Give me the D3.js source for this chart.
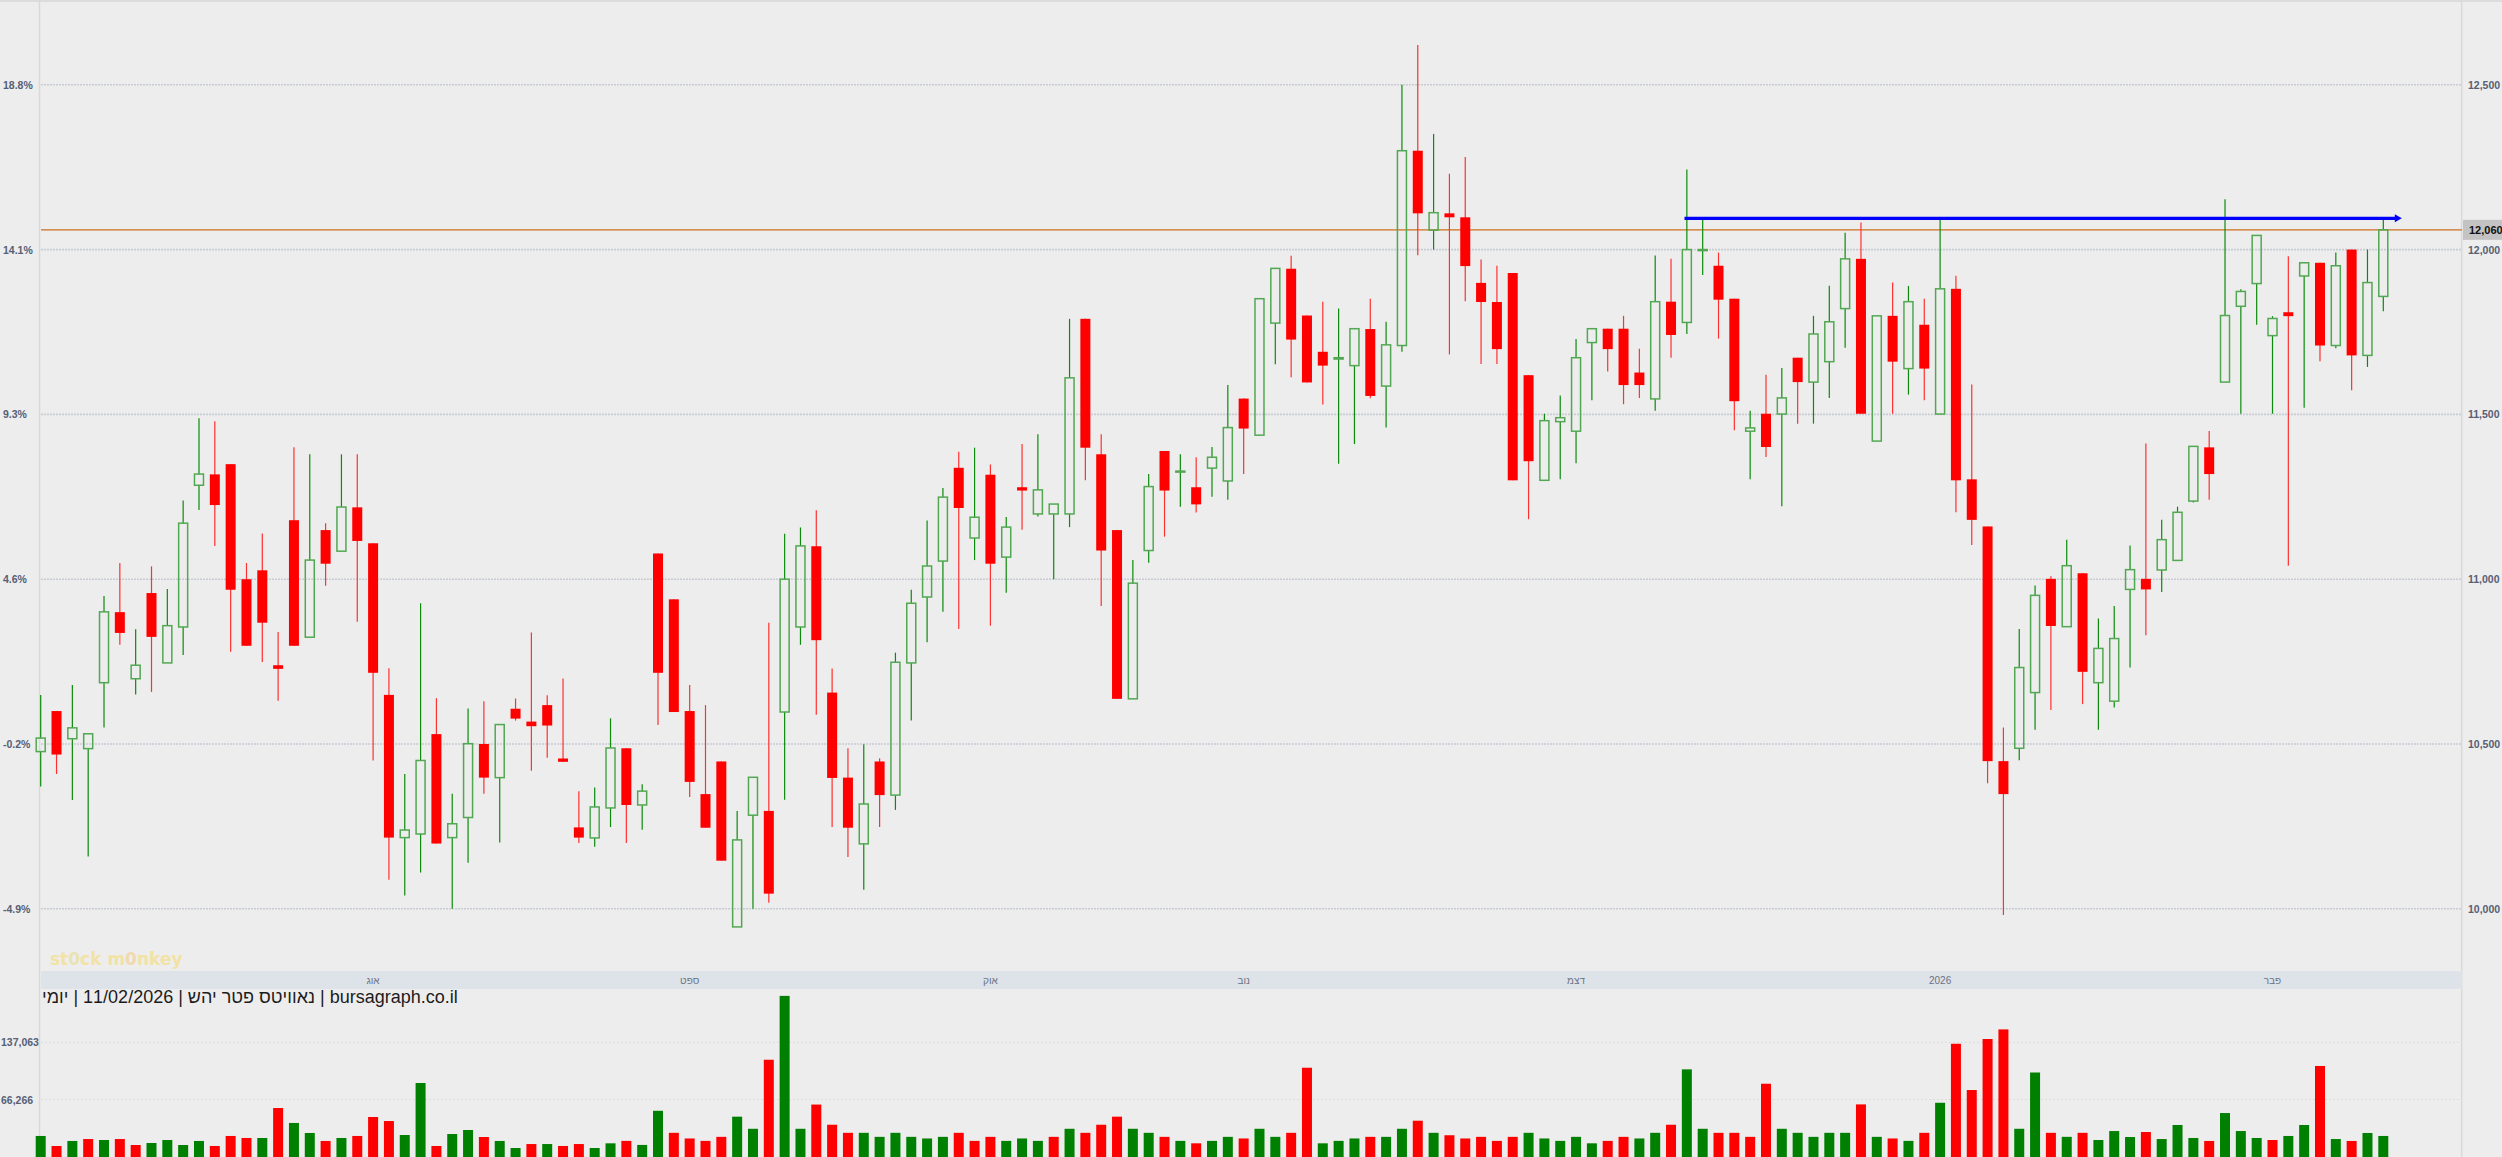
<!DOCTYPE html>
<html><head><meta charset="utf-8">
<script src="https://cdn.jsdelivr.net/npm/d3@7"></script>
<style>html,body{margin:0;padding:0;background:#ededed;overflow:hidden}</style>
</head><body><svg id="c" width="2502" height="1157"></svg>
<script>
// ---- DATA (daily OHLC) ----
const opens  = [10477,10600,10516,10486,10686,10900,10698,10958,10746,10855,11285,11318,11349,11000,11027,10739,11179,10824,11149,11085,11218,11109,10649,10216,10227,10530,10216,10277,10500,10398,10607,10568,10618,10456,10247,10215,10306,10487,10315,11078,10939,10600,10348,10447,9945,10284,10297,10597,10855,11100,10656,10398,10197,10447,10345,10746,10946,11055,11338,11125,11317,11067,11279,11198,11198,11198,11790,11379,11149,10637,11087,11389,11325,11279,11337,11298,11548,11437,11777,11942,11800,11690,11668,11648,11759,11586,11709,12300,12059,12110,12098,11899,11841,11929,11619,11300,11478,11449,11718,11760,11760,11627,11547,11842,11779,11997,11951,11851,11449,11502,11501,11672,11598,11660,11821,11972,11419,11799,11639,11772,11501,11881,11303,11160,10448,10487,10656,11001,10856,11018,10686,10630,10969,11001,11028,11057,11237,11400,11598,11828,11897,11739,11810,11920,11960,11709,12000,11679,11858];
const highs  = [10649,10600,10679,10531,10949,11049,10848,11039,10970,11239,11488,11479,11349,11049,11139,10840,11400,11379,11170,11379,11379,11109,10730,10409,10927,10639,10349,10608,10630,10559,10638,10838,10648,10699,10357,10368,10578,10487,10378,11078,10939,10679,10618,10447,10297,10399,10868,11138,11157,11209,10729,10487,10499,10457,10777,10968,11178,11277,11387,11399,11348,11189,11410,11440,11228,11790,11790,11440,11149,11058,11319,11389,11379,11370,11401,11589,11548,11851,11943,11981,11800,11842,11821,11760,11851,11781,12500,12621,12351,12230,12281,11970,11951,11929,11619,11502,11557,11729,11760,11760,11799,11699,11982,11972,12243,12094,11991,11851,11511,11620,11641,11672,11799,11890,12051,12082,11799,11900,11890,11851,12094,11921,11591,11160,10550,10849,10981,11009,11120,11018,10881,10919,11102,11412,11180,11220,11403,11450,12153,11880,12043,11798,11980,11960,11960,11991,12000,12000,12093];
const lows   = [10371,10409,10330,10159,10550,10801,10650,10658,10746,10770,11210,11101,10780,10798,10749,10631,10798,10824,10980,11085,10871,10450,10088,10040,10110,10198,10000,10140,10349,10201,10571,10419,10458,10446,10200,10188,10248,10200,10240,10558,10597,10339,10246,10146,9945,10000,10018,10331,10801,10589,10248,10157,10058,10248,10300,10571,10809,10901,10849,11058,10859,10959,11150,11190,11000,11158,11300,10919,10637,10637,11050,11129,11220,11202,11250,11241,11319,11437,11652,11613,11597,11530,11350,11410,11549,11460,11690,11983,12000,11682,11843,11653,11653,11300,11182,11300,11303,11352,11543,11630,11531,11550,11511,11672,11744,11923,11730,11452,11303,11371,11221,11472,11472,11550,11702,11502,11419,11502,11560,11543,11501,11203,11104,10381,9981,10451,10543,10603,10856,10621,10543,10611,10732,10830,10961,11057,11233,11241,11598,11502,11772,11502,11041,11520,11661,11701,11573,11644,11813];
const closes = [10518,10468,10549,10531,10901,10837,10739,10825,10859,11170,11319,11225,10968,10798,10868,10728,10798,11058,11047,11219,11116,10716,10216,10239,10450,10198,10258,10501,10398,10559,10577,10554,10556,10446,10216,10309,10488,10315,10357,10716,10597,10385,10246,10146,10209,10399,10046,11000,11101,10815,10397,10246,10318,10345,10748,10927,11040,11249,11216,11188,11047,11158,11269,11271,11228,11611,11399,11087,10637,10988,11281,11269,11328,11227,11370,11460,11457,11851,11943,11727,11597,11648,11672,11760,11556,11711,12300,12110,12112,12098,11950,11841,11698,11300,11358,11481,11490,11672,11760,11698,11589,11589,11842,11741,12000,12000,11848,11540,11459,11401,11550,11598,11744,11781,11972,11502,11799,11660,11842,11639,11881,11300,11180,10448,10348,10732,10951,10858,11041,10719,10790,10820,11029,10969,11120,11203,11403,11319,11800,11873,12043,11791,11798,11960,11709,11951,11679,11900,12060];
const volumes= [21100,8700,14900,17300,16100,17300,9900,12400,16100,9900,14900,8700,21100,18600,18600,55700,37200,24800,14900,18600,21100,44600,39600,22300,86700,8700,23500,28500,19800,14900,6200,11100,11100,8700,11100,6200,12000,15000,10000,52300,25000,18000,15000,20000,45000,30000,115500,194600,30000,60000,35000,25000,25000,20000,25000,20000,18000,20000,25000,15000,20000,15000,18000,15000,20000,30000,25000,35000,45000,30000,25000,20000,15000,12000,15000,20000,18000,30000,20000,25000,105600,12000,15000,18000,20000,20000,30000,40000,25000,22000,18000,20000,15000,20000,25000,18000,15000,20000,12000,15000,20000,18000,25000,35000,103600,30000,25000,25000,20000,85800,30000,25000,20000,25000,25000,60200,20000,18000,15000,25000,62200,135300,78000,141200,153100,30000,99700,25000,20000,25000,16100,27200,19800,26000,17300,34700,18600,14900,49500,27200,18600,16100,21100,34700,107800,17300,14900,24800,21100];

const priceTicks      = [10000,10500,11000,11500,12000,12500];
const priceTickLabels = ["10,000","10,500","11,000","11,500","12,000","12,500"];
const pctTickLabels   = ["-4.9%","-0.2%","4.6%","9.3%","14.1%","18.8%"];
const volTicks        = [66266,137063];
const volTickLabels   = ["66,266","137,063"];
const monthLabels     = ["אוג","ספט","אוק","נוב","דצמ","2026","פבר"];
const monthIndex      = [21,41,60,76,97,120,141];
const lastPrice       = 12060;
const lastPriceLabel  = "12,060";
const trendStartIdx   = 103.85, trendEndIdx = 149.17, trendPrice = 12095;
const titleText = "\u200Eיומי\u200E | 11/02/2026 | \u200Eנאוויטס פטר יהש\u200E | bursagraph.co.il";

// ---- LAYOUT ----
const W = 2502, H = 1157;
const plotL = 40, plotR = 2462;
const svg = d3.select("#c");
const x  = d3.scaleLinear().domain([0, 148]).range([40.7, 2383.3]);
const y  = d3.scaleLinear().domain([10000, 12500]).range([908.8, 84.8]);
const vy = d3.scaleLinear().domain([0, 66266]).range([1153, 1099.5]);

const BG = "#ededed";
svg.append("rect").attr("width", W).attr("height", H).attr("fill", BG);

// frame lines
svg.append("line").attr("x1",0).attr("x2",W).attr("y1",1).attr("y2",1).attr("stroke","#d6d6d6").attr("stroke-width",1.5);
svg.append("line").attr("x1",39.5).attr("x2",39.5).attr("y1",0).attr("y2",H).attr("stroke","#d9d9d9").attr("stroke-width",1.5);
svg.append("line").attr("x1",2461.7).attr("x2",2461.7).attr("y1",0).attr("y2",H).attr("stroke","#d9d9d9").attr("stroke-width",1.5);

// price gridlines
svg.append("g").selectAll("line").data(priceTicks).join("line")
  .attr("x1", plotL+1).attr("x2", plotR).attr("y1", d=>y(d)).attr("y2", d=>y(d))
  .attr("stroke","#c8ccd4").attr("stroke-width",1.6).attr("stroke-dasharray","2,1");

// axis labels
const labFont = "'Liberation Sans', Arial, sans-serif";
svg.append("g").selectAll("text").data(priceTicks).join("text")
  .attr("x", 3).attr("y", d=>y(d)+4).text((d,i)=>pctTickLabels[i])
  .attr("font-family", labFont).attr("font-size", 10.5).attr("font-weight","bold").attr("fill","#566074");
svg.append("g").selectAll("text").data(priceTicks).join("text")
  .attr("x", 2468).attr("y", d=>y(d)+4).text((d,i)=>priceTickLabels[i])
  .attr("font-family", labFont).attr("font-size", 10.5).attr("font-weight","bold").attr("fill","#566074");

// watermark
const wm = svg.append("text").attr("x", 50).attr("y", 965)
  .attr("font-family","'DejaVu Sans', sans-serif").attr("font-weight","bold").attr("font-size",17)
  .attr("fill","#f2e2a4");
wm.append("tspan").text("st");
wm.append("tspan").text("0").attr("fill","#e9e3b4");
wm.append("tspan").text("ck m");
wm.append("tspan").text("0").attr("fill","#f0d9b0");
wm.append("tspan").text("nkey");

// last price line
svg.append("line").attr("x1", plotL+1).attr("x2", plotR).attr("y1", y(lastPrice)).attr("y2", y(lastPrice))
  .attr("stroke","#cc6f1c").attr("stroke-width",1.3);

// candles
const idx = d3.range(closes.length);
const cg = svg.append("g");
const GREEN_WICK = "#0c8a0c", GREEN_BODY = "#52a852", RED = "#ff0000";
idx.forEach(i => {
  const o = opens[i], c = closes[i], h = highs[i], l = lows[i];
  const up = c >= o;
  const top = y(Math.max(o, c)), bot = y(Math.min(o, c));
  const cx = x(i);
  if (up) {
    if (y(h) < top) cg.append("line").attr("x1",cx).attr("x2",cx).attr("y1",y(h)).attr("y2",top).attr("stroke",GREEN_WICK).attr("stroke-width",1.2);
    if (y(l) > bot) cg.append("line").attr("x1",cx).attr("x2",cx).attr("y1",bot).attr("y2",y(l)).attr("stroke",GREEN_WICK).attr("stroke-width",1.2);
    cg.append("rect").attr("x",cx-4.5).attr("width",9).attr("y",top).attr("height",Math.max(1,bot-top))
      .attr("fill","none").attr("stroke",GREEN_BODY).attr("stroke-width",1.5);
  } else {
    cg.append("line").attr("x1",cx).attr("x2",cx).attr("y1",y(h)).attr("y2",y(l)).attr("stroke","#ff3030").attr("stroke-width",1.2);
    cg.append("rect").attr("x",cx-5).attr("width",10).attr("y",top).attr("height",Math.max(2,bot-top)).attr("fill",RED);
  }
});

// trend line with arrow
const ty = y(trendPrice);
svg.append("line").attr("x1", x(trendStartIdx)).attr("x2", x(trendEndIdx)-5).attr("y1", ty).attr("y2", ty)
  .attr("stroke","#0000ff").attr("stroke-width",3.2);
const tx = x(trendEndIdx);
svg.append("path").attr("d", `M${tx},${ty} L${tx-7},${ty-4} L${tx-7},${ty+4} Z`).attr("fill","#0000ff");

// last price tag
svg.append("rect").attr("x", 2463).attr("y", y(lastPrice)-10).attr("width", 39).attr("height", 20).attr("fill","#c3c3c3");
svg.append("text").attr("x", 2469).attr("y", y(lastPrice)+4).text(lastPriceLabel)
  .attr("font-family", labFont).attr("font-size", 11).attr("font-weight","bold").attr("fill","#111");

// month band
svg.append("rect").attr("x", 41).attr("y", 971).attr("width", plotR-41).attr("height", 18).attr("fill","#dee2e9");
svg.append("g").selectAll("text").data(monthIndex).join("text")
  .attr("x", d=>x(d)).attr("y", 984).attr("text-anchor","middle").text((d,i)=>monthLabels[i])
  .attr("font-family", labFont).attr("font-size", 10).attr("fill","#6a7384");

// title
svg.append("text").attr("x", 42).attr("y", 1003).text(titleText)
  .attr("font-family", labFont).attr("font-size", 18).attr("fill","#1c1c1c").attr("direction","ltr");

// volume gridlines & labels
svg.append("g").selectAll("line").data(volTicks).join("line")
  .attr("x1", plotL+1).attr("x2", plotR).attr("y1", d=>vy(d)).attr("y2", d=>vy(d))
  .attr("stroke","#dcdcdc").attr("stroke-width",1).attr("stroke-dasharray","2,2");
svg.append("g").selectAll("text").data(volTicks).join("text")
  .attr("x", 1).attr("y", d=>vy(d)+4).text((d,i)=>volTickLabels[i])
  .attr("font-family", labFont).attr("font-size", 10.5).attr("font-weight","bold").attr("fill","#566074");

// volume bars (colour by close vs previous close)
svg.append("g").selectAll("rect").data(idx).join("rect")
  .attr("x", i=>x(i)-5).attr("width", 10)
  .attr("y", i=>vy(volumes[i])).attr("height", i=>vy(0)-vy(volumes[i]) + 4)
  .attr("fill", i=> (i===0 || closes[i] >= closes[i-1]) ? "#008000" : "#ff0000");
</script></body></html>
